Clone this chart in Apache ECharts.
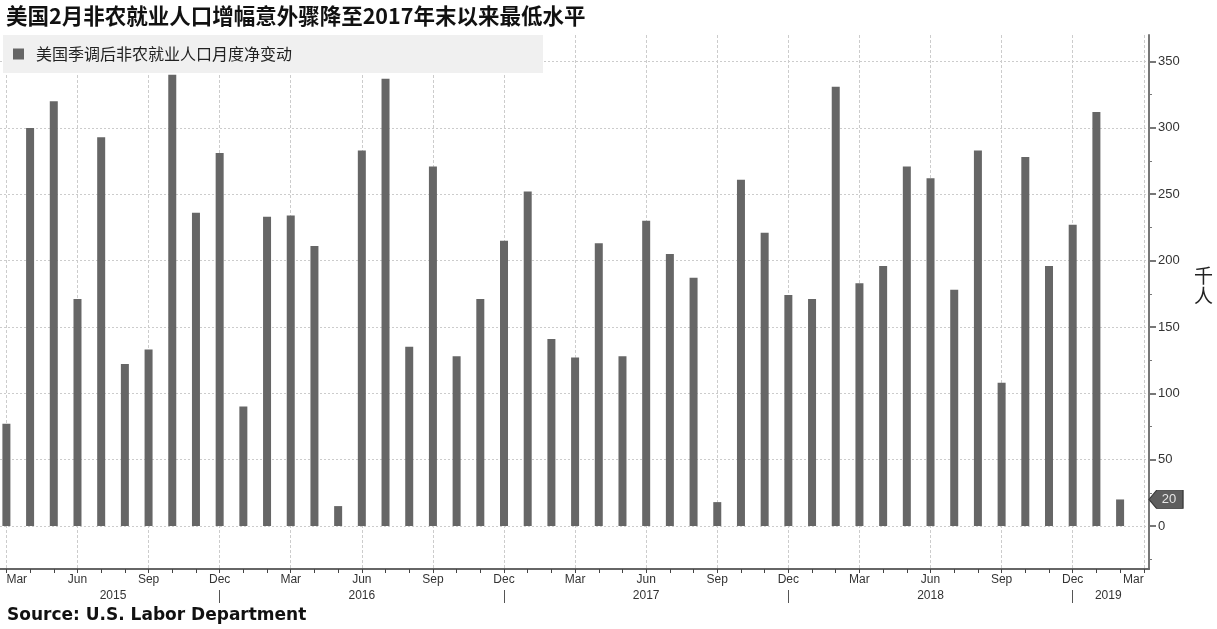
<!DOCTYPE html>
<html>
<head>
<meta charset="utf-8">
<script src="https://cdn.jsdelivr.net/npm/echarts@6/dist/echarts.min.js"></script>
<style>
html,body{margin:0;padding:0;background:#fff;}
#chart{width:1217px;height:629px;}
</style>
</head>
<body>
<div id="chart"></div>
<script>
// ---------- data ----------
const titleText = '美国2月非农就业人口增幅意外骤降至2017年末以来最低水平';
const sourceText = 'Source: U.S. Labor Department';
const seriesName = '美国季调后非农就业人口月度净变动';
const unitName = '千\n人';

const categories = [
  '2015-03','2015-04','2015-05','2015-06','2015-07','2015-08','2015-09','2015-10','2015-11','2015-12',
  '2016-01','2016-02','2016-03','2016-04','2016-05','2016-06','2016-07','2016-08','2016-09','2016-10','2016-11','2016-12',
  '2017-01','2017-02','2017-03','2017-04','2017-05','2017-06','2017-07','2017-08','2017-09','2017-10','2017-11','2017-12',
  '2018-01','2018-02','2018-03','2018-04','2018-05','2018-06','2018-07','2018-08','2018-09','2018-10','2018-11','2018-12',
  '2019-01','2019-02'
];
const values = [
  77, 300, 320, 171, 293, 122, 133, 340, 236, 281,
  90, 233, 234, 211, 15, 283, 337, 135, 271, 128, 171, 215,
  252, 141, 127, 213, 128, 230, 205, 187, 18, 261, 221, 174,
  171, 331, 183, 196, 271, 262, 178, 283, 108, 278, 196, 227,
  312, 20
];
const monthNames = ['Jan','Feb','Mar','Apr','May','Jun','Jul','Aug','Sep','Oct','Nov','Dec'];
const yearLabels = ['2015','2016','2017','2018','2019'];
const yMajorTicks = [0, 50, 100, 150, 200, 250, 300, 350];
const yMinorTicks = [-25, 25, 75, 125, 175, 225, 275, 325];

// ---------- derived ----------
const N = categories.length;
const startMonth = parseInt(categories[0].slice(5), 10) - 1; // 0-based (Mar = 2)
const monthOf = i => (startMonth + i) % 12;
const allMonthIdx = Array.from({length: N + 1}, (_, i) => i);      // Mar 2015 .. Mar 2019
const quarterIdx = allMonthIdx.filter(i => i % 3 === 0);
const yearSepIdx = allMonthIdx.filter(i => monthOf(i) === 11 && i < N); // Dec positions
const yearBounds = [0].concat(yearSepIdx, [N]);
const yearPos = yearLabels.map((y, k) => (yearBounds[k] + yearBounds[k + 1]) / 2);
const barData = values.map((v, i) => [i, v]);

const xMin = -0.27, xMax = 48.22;
const yMin = -32.4, yMax = 370;

const labelFont = 'Liberation Sans';

const chart = echarts.init(document.getElementById('chart'), null, {renderer: 'canvas'});
const option = {
  animation: false,
  backgroundColor: '#ffffff',
  title: [
    {
      text: titleText, left: 6, top: 5, padding: 0,
      textStyle: {fontFamily: 'Noto Sans CJK SC', fontWeight: 'bold', fontSize: 21.5, color: '#111'}
    },
    {
      text: sourceText, left: 7, top: 607, padding: 0,
      textStyle: {fontFamily: 'DejaVu Sans', fontWeight: 'bold', fontSize: 17, color: '#111'}
    }
  ],
  legend: {
    left: 13, top: 46, padding: 0,
    itemWidth: 11, itemHeight: 11, icon: 'rect',
    data: [seriesName],
    textStyle: {fontFamily: 'Noto Sans CJK SC', fontSize: 16, color: '#222', padding: [0, 0, 0, 7]}
  },
  graphic: [
    {
      type: 'rect', left: 3, top: 35, z: 1,
      shape: {width: 540, height: 38},
      style: {fill: '#f0f0f0'}
    },
    {
      type: 'text', left: 1194, top: 266, z: 5,
      style: {text: unitName, fontFamily: 'Noto Sans CJK SC', fontSize: 19, lineHeight: 20, fill: '#222'}
    }
  ],
  grid: {left: 0, right: 68, top: 35, bottom: 60, containLabel: false},
  xAxis: [
    {
      type: 'value', min: xMin, max: xMax, position: 'bottom',
      axisLine: {show: true, onZero: false, lineStyle: {color: '#666', width: 2}},
      axisTick: {show: true, customValues: allMonthIdx, length: 4, lineStyle: {color: '#444'}},
      axisLabel: {
        customValues: quarterIdx, margin: 5,
        formatter: v => monthNames[monthOf(Math.round(v))],
        color: '#333', fontSize: 12, fontFamily: labelFont,
        alignMinLabel: 'left', alignMaxLabel: 'right'
      },
      splitLine: {show: false}
    },
    {
      type: 'value', min: xMin, max: xMax, position: 'top',
      axisLine: {show: false, onZero: false},
      axisTick: {show: false, customValues: quarterIdx},
      axisLabel: {show: false},
      splitLine: {show: true, lineStyle: {color: '#cccccc', width: 1, type: [3, 2]}}
    },
    {
      type: 'value', min: xMin, max: xMax, position: 'bottom', offset: 21,
      axisLine: {show: false, onZero: false},
      axisTick: {show: true, customValues: yearSepIdx, length: 13, lineStyle: {color: '#555'}},
      axisLabel: {
        customValues: yearPos, margin: 0,
        formatter: v => yearLabels[yearPos.indexOf(v)] || '',
        color: '#333', fontSize: 12, fontFamily: labelFont
      },
      splitLine: {show: false}
    }
  ],
  yAxis: [
    {
      type: 'value', position: 'right', min: yMin, max: yMax,
      axisLine: {show: true, onZero: false, lineStyle: {color: '#777', width: 2}},
      axisTick: {show: true, customValues: yMajorTicks, length: 7, lineStyle: {color: '#777', width: 2}},
      axisLabel: {customValues: yMajorTicks, margin: 9, color: '#333', fontSize: 13, fontFamily: labelFont},
      splitLine: {show: true, lineStyle: {color: '#cccccc', width: 1, type: [2, 2]}}
    },
    {
      type: 'value', position: 'right', min: yMin, max: yMax,
      axisLine: {show: false, onZero: false},
      axisTick: {show: true, customValues: yMinorTicks, length: 3, lineStyle: {color: '#777'}},
      axisLabel: {show: false},
      splitLine: {show: false}
    }
  ],
  series: [
    {
      type: 'bar', name: seriesName, data: barData,
      xAxisIndex: 0, yAxisIndex: 0, barWidth: 8,
      itemStyle: {color: '#666666'},
      markPoint: {
        silent: true,
        symbol: 'path://M0,9 L8,0 L36,0 L36,18 L8,18 Z',
        symbolSize: [34, 18],
        symbolOffset: [17, 0],
        itemStyle: {color: '#5e5e5e', borderColor: '#3a3a3a', borderWidth: 1},
        label: {show: true, color: '#e6e6e6', fontSize: 13, fontFamily: labelFont, offset: [3, 0]},
        data: [{coord: [xMax, values[N - 1]], value: values[N - 1]}]
      }
    }
  ]
};
chart.setOption(option);
</script>
</body>
</html>
